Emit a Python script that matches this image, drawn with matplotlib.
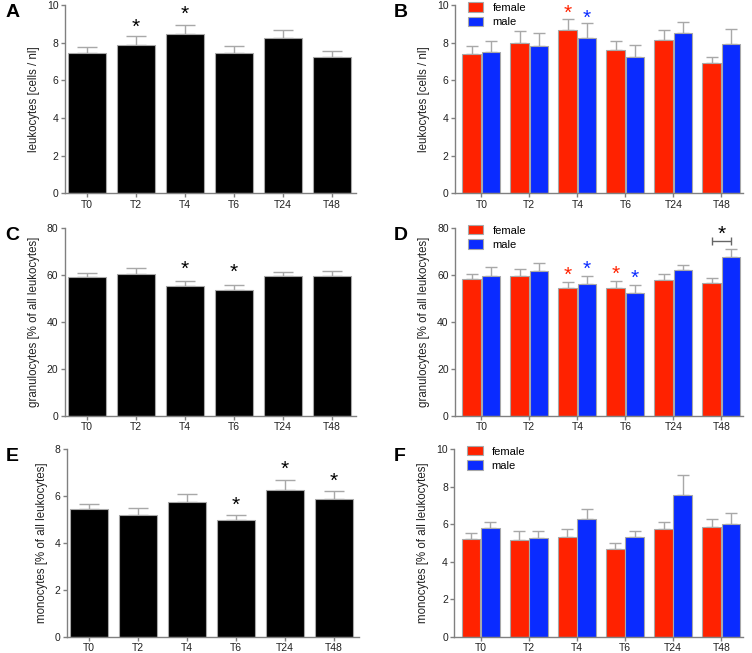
import matplotlib.pyplot as plt
import numpy as np

plt.rcParams['font.family'] = ['Liberation Sans', 'DejaVu Sans']

times = ['T0', 'T2', 'T4', 'T6', 'T24', 'T48']

# leukocytes
leuko_all = [7.46, 7.90, 8.49, 7.46, 8.28, 7.23]
leuko_all_err = [0.32, 0.47, 0.46, 0.39, 0.39, 0.35]
leuko_f = [7.43, 7.98, 8.67, 7.61, 8.14, 6.92]
leuko_f_err = [0.41, 0.67, 0.60, 0.51, 0.55, 0.35]
leuko_m = [7.50, 7.84, 8.25, 7.26, 8.51, 7.96]
leuko_m_err = [0.62, 0.66, 0.78, 0.65, 0.62, 0.78]

# granulocytes
gran_all = [59.1, 60.5, 55.2, 53.4, 59.5, 59.5]
gran_all_err = [1.7, 2.3, 2.2, 2.3, 1.7, 2.1]
gran_f = [58.4, 59.6, 54.5, 54.4, 57.9, 56.5]
gran_f_err = [2.0, 3.0, 2.4, 3.0, 2.7, 2.3]
gran_m = [59.6, 61.6, 56.1, 52.2, 61.9, 67.5]
gran_m_err = [3.7, 3.5, 3.5, 3.5, 2.3, 3.5]

# monocytes
mono_all = [5.45, 5.21, 5.73, 4.96, 6.26, 5.89]
mono_all_err = [0.21, 0.29, 0.34, 0.25, 0.42, 0.34]
mono_f = [5.20, 5.16, 5.30, 4.68, 5.76, 5.83]
mono_f_err = [0.35, 0.48, 0.44, 0.34, 0.37, 0.43]
mono_m = [5.80, 5.25, 6.29, 5.34, 7.57, 6.03]
mono_m_err = [0.32, 0.41, 0.54, 0.32, 1.06, 0.57]

RED = '#ff2200'
BLUE = '#0a2bff'
GREY = '#a8a8a8'
AX = '#808080'


def style_axes(ax, ymax, step, ylabel):
    for s in ['top', 'right']:
        ax.spines[s].set_visible(False)
    for s in ['left', 'bottom']:
        ax.spines[s].set_color(AX)
        ax.spines[s].set_linewidth(1.0)
    ax.set_ylim(0, ymax)
    ax.set_yticks(np.arange(0, ymax + step / 2, step))
    ax.set_xticks(range(len(times)))
    ax.set_xticklabels(times)
    ax.tick_params(colors=AX, labelcolor='#222222', labelsize=7.5, length=3, width=1, pad=1.5)
    ax.set_ylabel(ylabel, fontsize=8.3, color='#222222', labelpad=5)


def single_panel(ax, vals, errs, ymax, step, ylabel, stars):
    x = np.arange(len(times))
    ax.bar(x, vals, width=0.78, color='black', edgecolor=GREY, linewidth=0.8, zorder=2)
    ax.errorbar(x, vals, yerr=[np.zeros(len(errs)), errs], fmt='none',
                ecolor=GREY, elinewidth=1, capsize=7, capthick=1, zorder=1)
    for i, ys in stars:
        ax.text(x[i], ys, '*', ha='center', va='center', fontsize=15, color='black')
    ax.set_xlim(-0.45, 5.5)
    style_axes(ax, ymax, step, ylabel)


def sex_panel(ax, fv, fe, mv, me, ymax, step, ylabel, stars):
    x = np.arange(len(times))
    w = 0.39
    ax.bar(x - 0.2, fv, width=w, color=RED, edgecolor=GREY, linewidth=0.8, zorder=2, label='female')
    ax.bar(x + 0.2, mv, width=w, color=BLUE, edgecolor=GREY, linewidth=0.8, zorder=2, label='male')
    ax.errorbar(x - 0.2, fv, yerr=[np.zeros(len(fe)), fe], fmt='none',
                ecolor=GREY, elinewidth=1, capsize=4, capthick=1, zorder=1)
    ax.errorbar(x + 0.2, mv, yerr=[np.zeros(len(me)), me], fmt='none',
                ecolor=GREY, elinewidth=1, capsize=4, capthick=1, zorder=1)
    for xs, ys, c in stars:
        ax.text(xs, ys, '*', ha='center', va='center', fontsize=15, color=c)
    ax.set_xlim(-0.55, 5.45)
    style_axes(ax, ymax, step, ylabel)
    ax.legend(loc='upper left', bbox_to_anchor=(0.045, 1.015), frameon=False, fontsize=8,
              handlelength=1.4, handleheight=0.9, labelspacing=0.35, handletextpad=0.8,
              borderpad=0, borderaxespad=0)


fig = plt.figure(figsize=(7.52, 6.53), dpi=100)
w, h = 0.388, 0.288
axA = fig.add_axes([0.086, 0.704, w, h])
axB = fig.add_axes([0.605, 0.704, 0.383, h])
axC = fig.add_axes([0.086, 0.363, w, h])
axD = fig.add_axes([0.605, 0.363, 0.383, h])
axE = fig.add_axes([0.089, 0.0245, w, h])
axF = fig.add_axes([0.604, 0.0245, 0.384, h])

single_panel(axA, leuko_all, leuko_all_err, 10, 2, 'leukocytes [cells / nl]',
             [(1, 8.8), (2, 9.5)])
sex_panel(axB, leuko_f, leuko_f_err, leuko_m, leuko_m_err, 10, 2, 'leukocytes [cells / nl]',
          [(1.8, 9.55, RED), (2.2, 9.3, BLUE)])

single_panel(axC, gran_all, gran_all_err, 80, 20, 'granulocytes [% of all leukocytes]',
             [(2, 62.3), (3, 60.9)])
sex_panel(axD, gran_f, gran_f_err, gran_m, gran_m_err, 80, 20, 'granulocytes [% of all leukocytes]',
          [(1.8, 59.7, RED), (2.2, 62.2, BLUE), (2.8, 60.1, RED), (3.2, 58.7, BLUE), (5.0, 77.2, 'black')])
axD.errorbar(5.0, 74.6, xerr=0.2, fmt='none', ecolor='#666666', elinewidth=1, capsize=3, capthick=1)

single_panel(axE, mono_all, mono_all_err, 8, 2, 'monocytes [% of all leukocytes]',
             [(3, 5.62), (4, 7.12), (5, 6.62)])
sex_panel(axF, mono_f, mono_f_err, mono_m, mono_m_err, 10, 2, 'monocytes [% of all leukocytes]', [])

for ax, lab, xp in [(axA, 'A', 0.007), (axB, 'B', 0.524), (axC, 'C', 0.007),
                    (axD, 'D', 0.524), (axE, 'E', 0.007), (axF, 'F', 0.524)]:
    pos = ax.get_position()
    fig.text(xp, pos.y1 - 0.011, lab, fontsize=14, fontweight='bold', va='center')

fig.savefig('out.png', dpi=100)
